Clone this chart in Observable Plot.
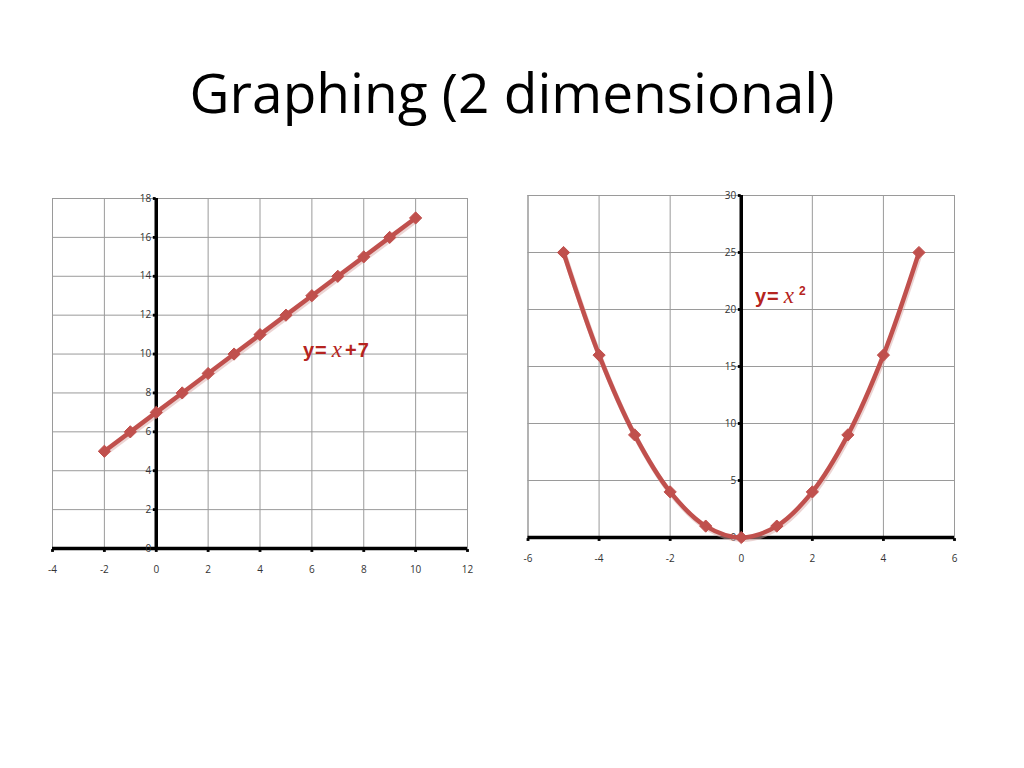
<!DOCTYPE html>
<html>
<head>
<meta charset="utf-8">
<script src="https://cdn.jsdelivr.net/npm/d3@7"></script>
<script src="https://cdn.jsdelivr.net/npm/@observablehq/plot@0.6"></script>
<style>
  html, body { margin: 0; padding: 0; background: #fff; }
  #page { position: relative; width: 1024px; height: 768px; overflow: hidden; background: #fff; }
  #title { position: absolute; left: 0; width: 1024px; top: 64px; text-align: center;
           font-family: "Open Sans", "Noto Sans", sans-serif; font-size: 55px; color: #000; line-height: 1; }
  .chart { position: absolute; }
  .eq { position: absolute; color: #b52420; font-family: "Liberation Sans", Arial, sans-serif;
        font-weight: bold; font-size: 20px; line-height: 1; white-space: nowrap; letter-spacing: 1px; }
  .eq i { font-family: "Liberation Serif", "DejaVu Serif", serif; font-weight: normal; font-style: italic; font-size: 23px; margin: 0 2px 0 4px; }
  .eq sup { font-size: 12px; vertical-align: 8px; margin-left: 2px; }
</style>
</head>
<body>
<div id="page">
  <div id="title">Graphing (2 dimensional)</div>
  <div id="left" class="chart" style="left:20px; top:180px;"></div>
  <div id="right" class="chart" style="left:505px; top:180px;"></div>
  <div class="eq" style="left:303px; top:338px;">y=<i>x</i>+7</div>
  <div class="eq" style="left:755px; top:284px;">y=<i>x</i><sup>2</sup></div>
</div>
<script>
// Left chart: y = x + 7
const linX = [-2, -1, 0, 1, 2, 3, 4, 5, 6, 7, 8, 9, 10];
const linY = [5, 6, 7, 8, 9, 10, 11, 12, 13, 14, 15, 16, 17];
const linXTicks = [-4, -2, 0, 2, 4, 6, 8, 10, 12];
const linYTicks = [0, 2, 4, 6, 8, 10, 12, 14, 16, 18];

// Right chart: y = x^2
const sqX = [-5, -4, -3, -2, -1, 0, 1, 2, 3, 4, 5];
const sqY = [25, 16, 9, 4, 1, 0, 1, 4, 9, 16, 25];
const sqXTicks = [-6, -4, -2, 0, 2, 4, 6];
const sqYTicks = [0, 5, 10, 15, 20, 25, 30];

const RED = "#c0504d";
const GRID = "#9a9a9a";
const LABEL = "#333333";
const FONT = "Open Sans, Noto Sans, sans-serif";

function chart({xs, ys, xTicks, yTicks, xDomain, yDomain, curve, width, height, margins, xLabelDy, yLabelDx}) {
  const pts = xs.map((x, i) => ({x, y: ys[i]}));
  return Plot.plot({
    width, height,
    marginLeft: margins[0], marginRight: margins[1], marginTop: margins[2], marginBottom: margins[3],
    x: {domain: xDomain, axis: null},
    y: {domain: yDomain, axis: null},
    style: {background: "#fff", overflow: "visible"},
    marks: [
      Plot.gridX(xTicks, {stroke: GRID, strokeOpacity: 1, strokeWidth: 1}),
      Plot.gridY(yTicks, {stroke: GRID, strokeOpacity: 1, strokeWidth: 1}),
      Plot.frame({stroke: GRID, strokeWidth: 1}),
      Plot.ruleY([0], {stroke: "#000", strokeWidth: 3.5}),
      Plot.ruleX([0], {stroke: "#000", strokeWidth: 3.5}),
      Plot.dot(xTicks, {x: d => d, y: 0, symbol: "square", r: 1.6, fill: "#000", dy: 2}),
      Plot.dot(yTicks, {x: 0, y: d => d, symbol: "square", r: 1.6, fill: "#000", dx: -2}),
      Plot.text(xTicks, {x: d => d, y: 0, text: d => String(d), dy: xLabelDy, fill: LABEL, fontSize: 10, fontFamily: FONT}),
      Plot.text(yTicks, {x: 0, y: d => d, text: d => String(d), dx: yLabelDx, textAnchor: "end", fill: LABEL, fontSize: 10, fontFamily: FONT}),
      Plot.line(pts, {x: "x", y: "y", stroke: "#d9a9a8", strokeWidth: 5, curve, dx: 1, dy: 2, strokeLinejoin: "round", strokeOpacity: 0.5}),
      Plot.line(pts, {x: "x", y: "y", stroke: RED, strokeWidth: 4.5, curve, strokeLinejoin: "round", strokeLinecap: "round"}),
      Plot.dot(pts, {x: "x", y: "y", symbol: "diamond2", r: 5.5, fill: RED, stroke: RED, strokeWidth: 1})
    ]
  });
}

document.getElementById("left").append(chart({
  xs: linX, ys: linY, xTicks: linXTicks, yTicks: linYTicks,
  xDomain: [-4, 12], yDomain: [0, 18], curve: "linear",
  width: 470, height: 400, margins: [32, 23, 18, 32], xLabelDy: 21, yLabelDx: -5
}));

document.getElementById("right").append(chart({
  xs: sqX, ys: sqY, xTicks: sqXTicks, yTicks: sqYTicks,
  xDomain: [-6, 6], yDomain: [0, 30], curve: "catmull-rom",
  width: 470, height: 390, margins: [22.5, 21, 15, 33], xLabelDy: 21, yLabelDx: -5
}));
</script>
</body>
</html>
